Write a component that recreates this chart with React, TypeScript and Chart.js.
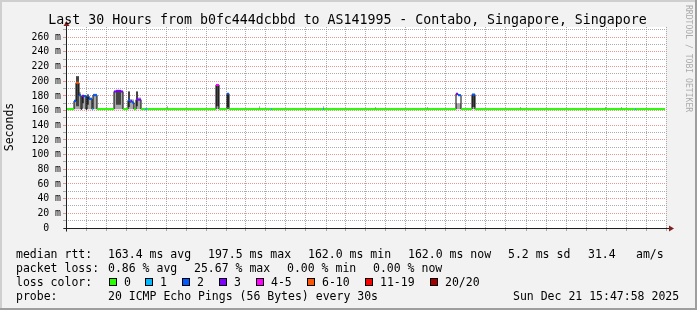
import React, { useEffect, useRef } from 'react';
import { Chart, registerables } from 'chart.js';

Chart.register(...registerables);

// ---------- data ----------
const START_HOUR = 9.8; // Sat 09:48
const END_HOUR = 39.8; // Sun 15:48
const DATA_END_HOUR = 39.75;

const tickHours = [12, 18, 24, 30, 36];
const tickLabels = ['Sat 12:00', 'Sat 18:00', 'Sun 00:00', 'Sun 06:00', 'Sun 12:00'];

// start hour of each interval (hours since Sat 00:00)
const segStartHours = [
  9.8, 10.2, 10.3, 10.45, 10.55, 10.6, 10.7, 10.8, 10.85, 10.95, 11.1, 11.15, 11.35,
  12.2, 12.3, 12.55, 12.65, 12.9, 13.0, 13.05, 13.1, 13.2, 13.3, 13.4, 13.55, 13.75, 13.85,
  14.85, 14.9, 17.3, 17.45, 17.85, 17.95, 19.45, 19.5, 20.05, 20.1, 22.65, 22.7,
  25.25, 25.3, 27.85, 27.9, 29.3, 29.4, 29.55, 30.1, 30.25, 32.5, 32.55,
  36.75, 36.8, 37.55, 37.6, 38.25, 38.3,
];
// median rtt (ms)
const medianMs = [
  162, 173, 198, 181, 162, 180, 180, 162, 180, 176, 162, 181, 162,
  186, 187, 186, 162, 174, 172, 173, 171, 162, 175, 175, 162, 162, 162,
  162, 162, 195, 162, 183, 162, 162, 162, 162, 162, 162, 162,
  162, 162, 162, 162, 183, 181, 162, 182, 162, 162, 162,
  162, 162, 162, 162, 162, 162,
];
// loss class index: 0=0, 1=1, 2=2, 3=3, 4=4-5, 5=6-10, 6=11-19, 7=20/20
const lossClass = [
  0, 2, 5, 2, 0, 3, 2, 0, 2, 2, 1, 2, 0,
  3, 3, 3, 0, 2, 2, 3, 2, 0, 3, 3, 0, 1, 0,
  0, 0, 4, 0, 2, 0, 0, 0, 1, 0, 1, 0,
  0, 0, 0, 0, 3, 2, 0, 2, 0, 0, 0,
  0, 0, 0, 0, 1, 0,
];
// outer (light) smoke range (ms)
const smokeLowMs = [
  162, 162, 162, 162, 162, 163, 162, 162, 162, 162, 162, 162, 162,
  162, 162, 162, 162, 162, 162, 162, 162, 162, 162, 162, 162, 162, 162,
  162, 162, 162, 162, 162, 162, 162, 162, 162, 162, 162, 162,
  162, 162, 162, 162, 162, 162, 162, 162, 162, 162, 162,
  162, 162, 162, 162, 162, 162,
];
const smokeHighMs = [
  162, 175, 207, 185, 162, 182, 181, 162, 182, 178, 162, 183, 162,
  187, 187, 187, 162, 186, 176, 176, 175, 162, 186, 178, 162, 162, 162,
  166, 162, 195, 162, 184, 162, 166, 162, 162, 162, 166, 162,
  165, 162, 165, 162, 170, 170, 162, 182, 162, 165, 162,
  165, 162, 165, 162, 162, 162,
];
// inner (dark) smoke range (ms)
const coreLowMs = [
  162, 162, 166, 162, 162, 170, 162, 162, 168, 162, 162, 162, 162,
  162, 168, 162, 162, 165, 162, 162, 162, 162, 166, 162, 162, 162, 162,
  162, 162, 166, 162, 165, 162, 162, 162, 162, 162, 162, 162,
  162, 162, 162, 162, 162, 162, 162, 165, 162, 162, 162,
  162, 162, 162, 162, 162, 162,
];
const coreHighMs = [
  162, 162, 207, 162, 162, 180, 162, 162, 182, 162, 162, 162, 162,
  162, 187, 162, 162, 186, 162, 162, 162, 162, 186, 162, 162, 162, 162,
  162, 162, 195, 162, 184, 162, 162, 162, 162, 162, 162, 162,
  162, 162, 162, 162, 162, 162, 162, 182, 162, 162, 162,
  162, 162, 162, 162, 162, 162,
];

const lossLabels = ['0', '1', '2', '3', '4-5', '6-10', '11-19', '20/20'];
const lossColors = ['#26ff00', '#00b8ff', '#0059ff', '#7e00ff', '#ff00ff', '#ff5500', '#ff0000', '#a00000'];

const titleText = 'Last 30 Hours from b0fc444dcbbd to AS141995 - Contabo, Singapore, Singapore';
const rttStats = ['163.4 ms avg', '197.5 ms max', '162.0 ms min', '162.0 ms now', '5.2 ms sd', '31.4', 'am/s'];
const lossStats = ['0.86 % avg', '25.67 % max', '0.00 % min', '0.00 % now'];
const probeText = '20 ICMP Echo Pings (56 Bytes) every 30s';
const dateText = 'Sun Dec 21 15:47:58 2025';

// ---------- styles ----------
const MONO = '"DejaVu Sans Mono", monospace';
const MAJOR = 'rgba(222,79,79,0.6)';
const MINOR = 'rgba(143,143,143,0.75)';

const stepPoints = (vals: number[]) => [
  ...segStartHours.map((h, i) => ({ x: h, y: vals[i] })),
  { x: DATA_END_HOUR, y: vals[vals.length - 1] },
];

const lossSegPoints: { x: number; y: number | null }[] = [];
segStartHours.forEach((h, i) => {
  const end = i + 1 < segStartHours.length ? segStartHours[i + 1] : DATA_END_HOUR;
  lossSegPoints.push({ x: h, y: medianMs[i] }, { x: end, y: medianMs[i] }, { x: end, y: null });
});

const decorPlugin = {
  id: 'decor',
  beforeDraw(chart: any) {
    const { ctx, chartArea: a, width, height } = chart;
    ctx.save();
    ctx.fillStyle = '#f2f2f2';
    ctx.fillRect(0, 0, width, height);
    ctx.fillStyle = '#cfcfcf';
    ctx.fillRect(0, 0, width, 2);
    ctx.fillRect(0, 0, 2, height);
    ctx.fillStyle = '#9e9e9e';
    ctx.fillRect(0, height - 2, width, 2);
    ctx.fillRect(width - 2, 0, 2, height);
    ctx.fillStyle = '#ffffff';
    ctx.fillRect(a.left, a.top, a.right - a.left, a.bottom - a.top);
    ctx.restore();
  },
  afterDraw(chart: any) {
    const { ctx, chartArea: a } = chart;
    ctx.save();
    // axes
    const ax = a.left + 0.5;
    const ay = a.bottom + 0.5;
    ctx.strokeStyle = '#1f1f1f';
    ctx.lineWidth = 1;
    ctx.beginPath();
    ctx.moveTo(ax, ay + 3);
    ctx.lineTo(ax, a.top - 3);
    ctx.moveTo(ax - 3, ay);
    ctx.lineTo(a.right + 3, ay);
    ctx.stroke();
    ctx.fillStyle = '#801f1f';
    ctx.beginPath();
    ctx.moveTo(ax, a.top - 6);
    ctx.lineTo(ax - 3, a.top - 1);
    ctx.lineTo(ax + 3, a.top - 1);
    ctx.closePath();
    ctx.fill();
    ctx.beginPath();
    ctx.moveTo(a.right + 8, ay);
    ctx.lineTo(a.right + 3, ay - 3);
    ctx.lineTo(a.right + 3, ay + 3);
    ctx.closePath();
    ctx.fill();

    // title
    ctx.fillStyle = '#000';
    ctx.font = `13.25px ${MONO}`;
    ctx.textAlign = 'center';
    ctx.textBaseline = 'alphabetic';
    ctx.fillText(titleText, 347.5, 23.5);

    // y title
    ctx.font = `11.5px ${MONO}`;
    ctx.save();
    ctx.translate(10, 127);
    ctx.rotate(-Math.PI / 2);
    ctx.textBaseline = 'middle';
    ctx.fillText('Seconds', 0, 0);
    ctx.restore();

    // watermark
    ctx.save();
    ctx.font = `8.1px ${MONO}`;
    ctx.fillStyle = '#ababab';
    ctx.translate(688, 5);
    ctx.rotate(Math.PI / 2);
    ctx.textAlign = 'left';
    ctx.textBaseline = 'middle';
    ctx.fillText('RRDTOOL / TOBI OETIKER', 0, 0);
    ctx.restore();

    // legend
    ctx.font = `11.5px ${MONO}`;
    ctx.textAlign = 'left';
    ctx.textBaseline = 'alphabetic';
    ctx.fillStyle = '#000';
    const r1 = 258, r2 = 272, r3 = 286, r4 = 300;
    ctx.fillText('median rtt:', 16, r1);
    const rttX = [108, 208, 308, 408, 508, 588, 636];
    rttStats.forEach((s, i) => ctx.fillText(s, rttX[i], r1));
    ctx.fillText('packet loss:', 16, r2);
    const lossX = [108, 194, 287, 373];
    lossStats.forEach((s, i) => ctx.fillText(s, lossX[i], r2));
    ctx.fillText('loss color:', 16, r3);
    const boxX = [109, 145, 182, 219, 256, 307, 365, 430];
    lossLabels.forEach((s, i) => {
      ctx.fillStyle = lossColors[i];
      ctx.fillRect(boxX[i], r3 - 8, 8, 8);
      ctx.strokeStyle = '#000';
      ctx.strokeRect(boxX[i] + 0.5, r3 - 7.5, 7, 7);
      ctx.fillStyle = '#000';
      ctx.fillText(s, boxX[i] + 15, r3);
    });
    ctx.fillText('probe:', 16, r4);
    ctx.fillText(probeText, 108, r4);
    ctx.fillText(dateText, 513, r4);
    ctx.restore();
  },
};

export default function App() {
  const ref = useRef<HTMLCanvasElement | null>(null);
  useEffect(() => {
    if (!ref.current) return;
    const chart = new Chart(ref.current, {
      type: 'line',
      data: {
        datasets: [
          {
            label: 'smokeLow',
            data: stepPoints(smokeLowMs),
            stepped: true,
            borderWidth: 0,
            borderColor: 'rgba(0,0,0,0)',
            fill: false,
            order: 6,
          },
          {
            label: 'smokeHigh',
            data: stepPoints(smokeHighMs),
            stepped: true,
            borderWidth: 0,
            borderColor: 'rgba(0,0,0,0)',
            backgroundColor: '#a8a8a8',
            fill: '-1',
            order: 5,
          },
          {
            label: 'coreLow',
            data: stepPoints(coreLowMs),
            stepped: true,
            borderWidth: 0,
            borderColor: 'rgba(0,0,0,0)',
            fill: false,
            order: 4,
          },
          {
            label: 'coreHigh',
            data: stepPoints(coreHighMs),
            stepped: true,
            borderWidth: 0,
            borderColor: 'rgba(0,0,0,0)',
            backgroundColor: '#444444',
            fill: '-1',
            order: 3,
          },
          {
            label: 'median',
            data: stepPoints(medianMs),
            stepped: true,
            borderWidth: 1,
            borderColor: '#000000',
            fill: false,
            order: 2,
          },
          {
            label: 'loss',
            data: lossSegPoints as any,
            borderWidth: 2,
            borderColor: lossColors[0],
            borderCapStyle: 'butt',
            spanGaps: false,
            fill: false,
            order: 1,
            segment: {
              borderColor: (c: any) => lossColors[lossClass[Math.floor(c.p0DataIndex / 3)]],
            },
          } as any,
        ],
      },
      options: {
        responsive: false,
        devicePixelRatio: 1,
        animation: false,
        events: [],
        elements: { point: { radius: 0 } },
        layout: { padding: { left: 0, top: 27, right: 31, bottom: 0 } },
        plugins: { legend: { display: false }, tooltip: { enabled: false }, title: { display: false } },
        scales: {
          x: {
            type: 'linear',
            min: START_HOUR,
            max: END_HOUR,
            afterFit: (s: any) => {
              s.height = 82;
            },
            border: { display: false, dash: [1, 1] },
            grid: {
              color: (c: any) => (c.tick && c.tick.value % 3 === 0 ? MAJOR : MINOR),
              lineWidth: 1,
              tickLength: 3,
            },
            ticks: {
              stepSize: 1,
              includeBounds: false,
              autoSkip: false,
              maxRotation: 0,
              minRotation: 0,
              padding: -1,
              color: '#000',
              font: { family: MONO, size: 9.8 },
              callback: (v: any) => {
                const i = tickHours.indexOf(Number(v));
                return i >= 0 ? tickLabels[i] : '';
              },
            },
          },
          y: {
            type: 'linear',
            min: 0,
            max: 274,
            afterFit: (s: any) => {
              s.width = 66;
            },
            border: { display: false, dash: [1, 1] },
            grid: {
              color: (c: any) => (c.tick && c.tick.value % 20 === 0 ? MAJOR : MINOR),
              lineWidth: 1,
              tickLength: 3,
            },
            ticks: {
              stepSize: 10,
              includeBounds: false,
              autoSkip: false,
              padding: 2,
              color: '#000',
              font: { family: MONO, size: 9.8 },
              callback: (v: any) => {
                const n = Number(v);
                if (n === 0) return '0  ';
                return n % 20 === 0 ? `${n} m` : '';
              },
            },
          },
        },
      },
      plugins: [decorPlugin],
    });
    return () => chart.destroy();
  }, []);
  return (
    <div style={{ position: 'absolute', left: 0, top: 0, width: 697, height: 310 }}>
      <canvas ref={ref} width={697} height={310} style={{ display: 'block', width: 697, height: 310 }} />
    </div>
  );
}
